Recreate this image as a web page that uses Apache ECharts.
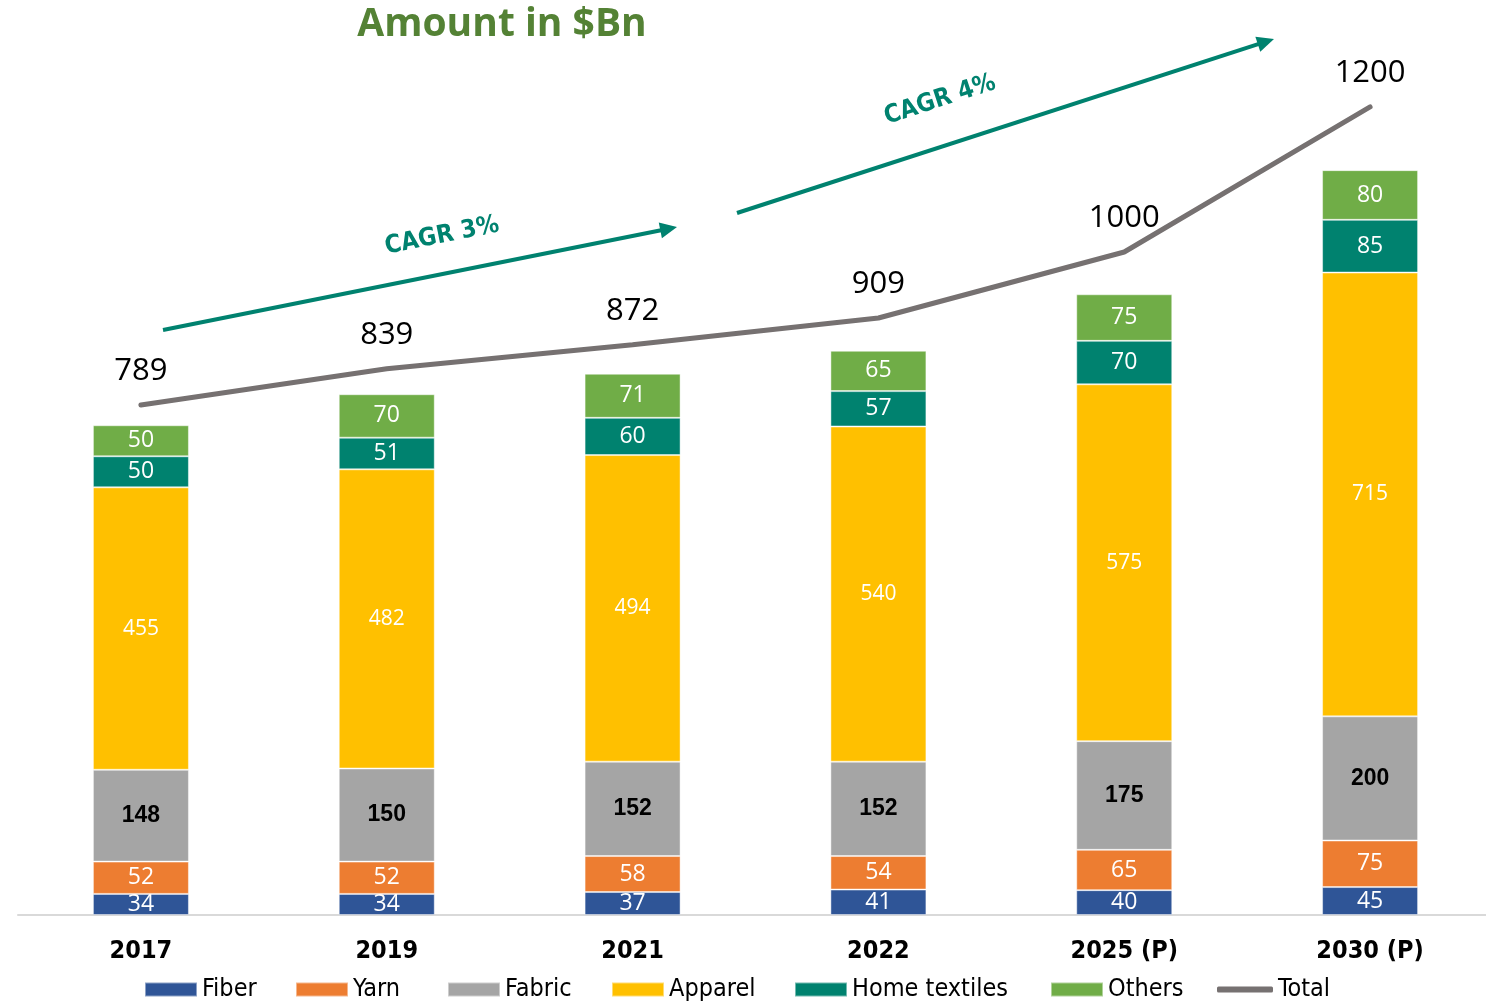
<!DOCTYPE html>
<html>
<head>
<meta charset="utf-8">
<script src="https://cdn.jsdelivr.net/npm/echarts@6/dist/echarts.min.js"></script>
<style>
html,body{margin:0;padding:0;background:#fff;}
#chart{width:1486px;height:1002px;}
</style>
</head>
<body>
<div id="chart"></div>
<script>
const categories = ['2017', '2019', '2021', '2022', '2025 (P)', '2030 (P)'];
const fiber = [34, 34, 37, 41, 40, 45];
const yarn = [52, 52, 58, 54, 65, 75];
const fabric = [148, 150, 152, 152, 175, 200];
const apparel = [455, 482, 494, 540, 575, 715];
const homeTextiles = [50, 51, 60, 57, 70, 85];
const others = [50, 70, 71, 65, 75, 80];
const total = [789, 839, 872, 909, 1000, 1200];
const seriesNames = ['Fiber', 'Yarn', 'Fabric', 'Apparel', 'Home textiles', 'Others', 'Total'];
const title = 'Amount in $Bn';
const cagrTexts = ['CAGR 3%', 'CAGR 4%'];

const colors = {
  'Fiber': '#2F5597',
  'Yarn': '#ED7D31',
  'Fabric': '#A5A5A5',
  'Apparel': '#FFC000',
  'Home textiles': '#00826F',
  'Others': '#70AD47',
  'Total': '#767171'
};
const teal = '#00826F';

const chart = echarts.init(document.getElementById('chart'), null, {renderer: 'canvas'});

const whiteLabel = {show: true, position: 'inside', color: '#fff', fontFamily: 'Open Sans', fontSize: 23};
function barSeries(name, data, label) {
  return {
    name: name, type: 'bar', stack: 'amt', data: data, barWidth: 96,
    itemStyle: {color: colors[name], borderColor: 'rgba(255,255,255,0.45)', borderWidth: 1},
    label: label,
    emphasis: {disabled: true}
  };
}

function arrow(x1, y1, x2, y2) {
  const dx = x2 - x1, dy = y2 - y1;
  const len = Math.sqrt(dx*dx + dy*dy);
  const ux = dx/len, uy = dy/len, nx = -uy, ny = ux;
  const L = 17, W = 8;
  const bx = x2 - ux*L, by = y2 - uy*L;
  return [
    {type: 'line', shape: {x1: x1, y1: y1, x2: bx + ux*2, y2: by + uy*2}, style: {stroke: teal, lineWidth: 4}},
    {type: 'polygon', shape: {points: [[x2, y2], [bx + nx*W, by + ny*W], [bx - nx*W, by - ny*W]]}, style: {fill: teal}}
  ];
}

const legendLefts = [144, 295, 447, 611, 794, 1050, 1217];
const legends = seriesNames.map((n, i) => {
  const isLine = n === 'Total';
  const lg = {
    data: [n], left: legendLefts[i], top: 977, padding: 0,
    itemWidth: isLine ? 56 : 52, itemHeight: isLine ? 6 : 14, icon: isLine ? 'roundRect' : 'rect',
    textStyle: {fontFamily: 'DejaVu Sans Condensed', fontSize: 25, color: '#000'},
    selectedMode: false
  };
  if (isLine) lg.itemStyle = {color: colors['Total'], opacity: 1, borderWidth: 0};
  return lg;
});

const option = {
  animation: false,
  backgroundColor: '#fff',
  grid: {left: 18, right: -7, top: 46, bottom: 87, outerBoundsMode: 'none', containLabel: false},
  legend: legends,
  xAxis: {
    type: 'category', data: categories,
    axisLine: {lineStyle: {color: '#D9D9D9', width: 2}},
    axisTick: {show: false},
    axisLabel: {fontFamily: 'DejaVu Sans Condensed', fontWeight: 'bold', fontSize: 25, color: '#000', margin: 24}
  },
  yAxis: [
    {type: 'value', min: 0, max: 1400, show: false, splitLine: {show: false}},
    {type: 'value', min: 86, max: 1284, show: false, splitLine: {show: false}}
  ],
  series: [
    barSeries('Fiber', fiber, whiteLabel),
    barSeries('Yarn', yarn, whiteLabel),
    barSeries('Fabric', fabric, {show: true, position: 'inside', color: '#000', fontFamily: 'Liberation Sans', fontWeight: 'bold', fontSize: 23}),
    barSeries('Apparel', apparel, Object.assign({}, whiteLabel, {fontSize: 21})),
    barSeries('Home textiles', homeTextiles, whiteLabel),
    barSeries('Others', others, whiteLabel),
    {
      name: 'Total', type: 'line', yAxisIndex: 1, data: total,
      symbol: 'circle', symbolSize: 1, showSymbol: true,
      lineStyle: {color: colors['Total'], width: 5, cap: 'round'},
      itemStyle: {color: colors['Total'], opacity: 0},
      label: {show: true, position: 'top', distance: 18, color: '#000', fontFamily: 'Open Sans', fontSize: 31, opacity: 1},
      emphasis: {disabled: true}
    }
  ],
  graphic: [
    {type: 'text', x: 502, y: 25, style: {text: title, fill: '#548235', font: 'bold 39px "Open Sans"', align: 'center', verticalAlign: 'middle'}},
    ...arrow(163, 330, 677, 227),
    ...arrow(737, 213, 1274, 39),
    {type: 'text', x: 442, y: 236, rotation: Math.atan2(103, 514), style: {text: cagrTexts[0], fill: teal, font: 'bold 25px "DejaVu Sans Condensed"', align: 'center', verticalAlign: 'middle'}},
    {type: 'text', x: 940, y: 100, rotation: Math.atan2(174, 537), style: {text: cagrTexts[1], fill: teal, font: 'bold 25px "DejaVu Sans Condensed"', align: 'center', verticalAlign: 'middle'}}
  ]
};
chart.setOption(option);
</script>
</body>
</html>
